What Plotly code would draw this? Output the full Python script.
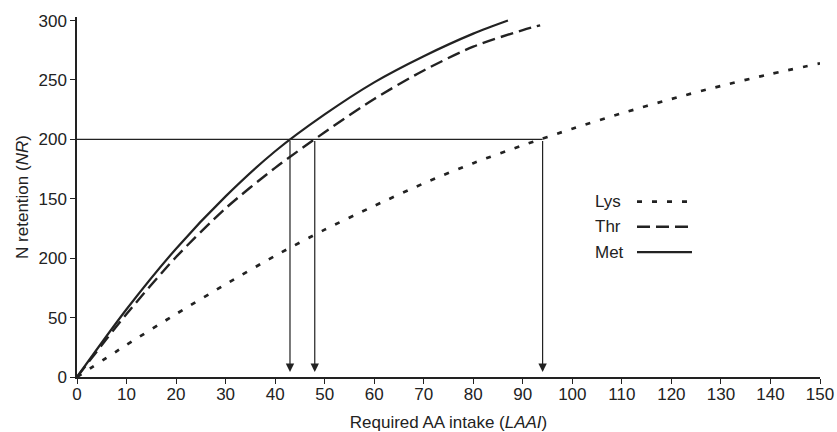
import plotly.graph_objects as go

# ---- data ----
laai_met = [0, 10, 20, 30, 40, 50, 60, 70, 80, 87]
nr_met = [0, 57, 108, 152, 190, 221, 248, 270, 289, 300]

laai_thr = [0, 10, 20, 30, 40, 50, 60, 70, 80, 90, 93.5]
nr_thr = [0, 53, 101, 142, 176, 206, 234, 258, 278, 292, 296]

laai_lys = [0, 10, 20, 30, 40, 50, 60, 70, 80, 90, 100, 110, 120, 130, 140, 150]
nr_lys = [0, 27, 53, 78, 102, 124, 144, 163, 180, 195, 209, 222, 234, 245, 255, 264]

target_nr = 200
required_laai = [43, 48, 94]   # Met, Thr, Lys

series_names = ["Lys", "Thr", "Met"]
x_ticks = list(range(0, 151, 10))
y_ticks = [0, 50, 100, 150, 200, 250, 300]
y_ticklabels = ["0", "50", "200", "150", "200", "250", "300"]  # as printed in the original

INK = "#222222"
FONT = "Liberation Sans, Arial, Helvetica, sans-serif"

dash_styles = {"Lys": "5px,10px", "Thr": "13px,6px", "Met": "solid"}
widths = {"Lys": 2.7, "Thr": 2.4, "Met": 2.2}

fig = go.Figure()

data = {"Lys": (laai_lys, nr_lys), "Thr": (laai_thr, nr_thr), "Met": (laai_met, nr_met)}
for name in series_names:
    xs, ys = data[name]
    fig.add_trace(go.Scatter(
        x=xs, y=ys, mode="lines", name=name, showlegend=False,
        line=dict(color=INK, width=widths[name], dash=dash_styles[name], shape="spline", smoothing=0.8),
        hoverinfo="skip",
    ))

# horizontal reference line at target NR
fig.add_trace(go.Scatter(
    x=[0, max(required_laai)], y=[target_nr, target_nr], mode="lines",
    line=dict(color=INK, width=1.2), showlegend=False, hoverinfo="skip",
))

annotations = []
for rx in required_laai:
    annotations.append(dict(
        x=rx, y=0, xref="x", yref="y", ax=rx, ay=target_nr, axref="x", ayref="y",
        showarrow=True, arrowhead=2, arrowsize=1.4, arrowwidth=1.2, arrowcolor=INK,
        standoff=5, text="",
    ))

# custom legend (label on the left, line sample on the right)
legend_y = [0.487, 0.4175, 0.347]
shapes = []
for name, ly in zip(series_names, legend_y):
    annotations.append(dict(
        x=0.6945, y=ly, xref="paper", yref="paper", text=name, showarrow=False,
        xanchor="left", yanchor="middle", font=dict(family=FONT, size=17, color=INK),
    ))
    shapes.append(dict(
        type="line", xref="paper", yref="paper", x0=0.7537, x1=0.8277, y0=ly, y1=ly,
        line=dict(color=INK, width=widths[name], dash=dash_styles[name]),
    ))

fig.update_layout(
    width=837, height=432,
    margin=dict(l=77, r=17, t=17, b=55),
    paper_bgcolor="white", plot_bgcolor="white",
    font=dict(family=FONT, size=17, color=INK),
    annotations=annotations, shapes=shapes,
    showlegend=False,
)
fig.update_xaxes(
    range=[0, 150], tickvals=x_ticks, ticktext=[str(v) for v in x_ticks],
    showgrid=False, zeroline=False, showline=True, linecolor=INK, linewidth=1.5,
    ticks="outside", ticklen=5, tickwidth=1.2, tickcolor=INK, automargin=False,
    tickfont=dict(size=17), ticklabelstandoff=-4,
    title=dict(text="Required AA intake (<i>LAAI</i>)", font=dict(size=17), standoff=14),
)
fig.update_yaxes(
    range=[0, 303], tickvals=y_ticks, ticktext=y_ticklabels,
    showgrid=False, zeroline=False, showline=True, linecolor=INK, linewidth=1.5,
    ticks="outside", ticklen=5, tickwidth=1.2, tickcolor=INK, automargin=False,
    tickfont=dict(size=17),
    title=dict(text="N retention (<i>NR</i>)", font=dict(size=17), standoff=6),
)

fig.write_html("out.html")
